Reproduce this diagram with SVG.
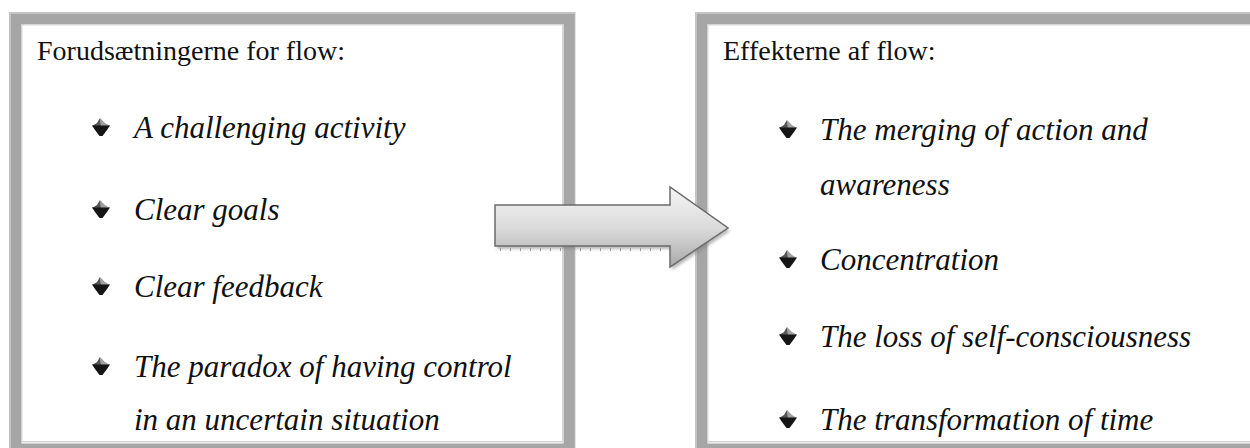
<svg xmlns="http://www.w3.org/2000/svg" width="1250" height="448" viewBox="0 0 1250 448">
<style>
.band{fill:none;stroke:#a6a6a6;stroke-width:11}
.outl{fill:none;stroke:#c4c4c4;stroke-width:1.5}
.inl{fill:none;stroke:#d4d4d4;stroke-width:1.5}
.title{font-family:"Liberation Serif","Times New Roman",serif;font-size:28px;fill:#111}
.item{font-family:"Liberation Serif","Times New Roman",serif;font-size:31px;font-style:italic;fill:#111}
</style>
<defs>
<linearGradient id="ag" x1="0" y1="0" x2="0" y2="1">
<stop offset="0" stop-color="#f4f4f4"/>
<stop offset="0.5" stop-color="#dcdcdc"/>
<stop offset="1" stop-color="#a9a9a9"/>
</linearGradient>
<filter id="sh" x="-10%" y="-20%" width="130%" height="150%">
<feGaussianBlur stdDeviation="1.5"/>
</filter>
<g id="bul">
<path d="M-1,-9 L4,-4 L9,-1 L0,-1 Z" fill="#a0a0a0"/>
<path d="M-1,-9 L-4,-4 L-9,-1 L0,-1 Z" fill="#555"/>
<path d="M-9,-1.5 L9,-1.5 L6,3 L1.5,9 L-1.5,9 L-6,3 Z" fill="#151515"/>
</g>
</defs>

<g id="box-left">
<rect class="outl" x="9.75" y="12.75" width="565" height="450"/>
<rect class="band" x="16" y="19" width="553" height="430"/>
<rect class="inl" x="21.75" y="24.75" width="541" height="417"/>
<text class="title" x="37" y="60">Forudsætningerne for flow:</text>
<use href="#bul" x="101" y="127"/>
<text class="item" x="134" y="138">A challenging activity</text>
<use href="#bul" x="101" y="209"/>
<text class="item" x="134" y="220">Clear goals</text>
<use href="#bul" x="101" y="286"/>
<text class="item" x="134" y="297">Clear feedback</text>
<use href="#bul" x="101" y="366"/>
<text class="item" x="134" y="377">The paradox of having control</text>
<text class="item" x="134" y="430">in an uncertain situation</text>
</g>

<g id="box-right">
<rect class="outl" x="695.75" y="12.75" width="600" height="450"/>
<rect class="band" x="702" y="19" width="600" height="430"/>
<rect class="inl" x="707.75" y="24.75" width="600" height="417"/>
<text class="title" x="723" y="60">Effekterne af flow:</text>
<use href="#bul" x="788" y="129"/>
<text class="item" x="820" y="140">The merging of action and</text>
<text class="item" x="820" y="195">awareness</text>
<use href="#bul" x="788" y="259"/>
<text class="item" x="820" y="270">Concentration</text>
<use href="#bul" x="788" y="336"/>
<text class="item" x="820" y="347">The loss of self-consciousness</text>
<use href="#bul" x="788" y="419"/>
<text class="item" x="820" y="430">The transformation of time</text>
</g>

<g id="connectors">
<path d="M495,205 L670,205 L670,187 L728,228 L670,267 L670,246 L495,246 Z" fill="#808080" opacity="0.55" filter="url(#sh)" transform="translate(2,3)"/>
<line x1="500" y1="249.5" x2="668" y2="249.5" stroke="#9a9a9a" stroke-width="3" stroke-dasharray="1 9"/>
<path d="M495,205 L670,205 L670,187 L728,228 L670,267 L670,246 L495,246 Z" fill="url(#ag)" stroke="#6b6b6b" stroke-width="1.5" stroke-linejoin="miter"/>
</g>
</svg>
